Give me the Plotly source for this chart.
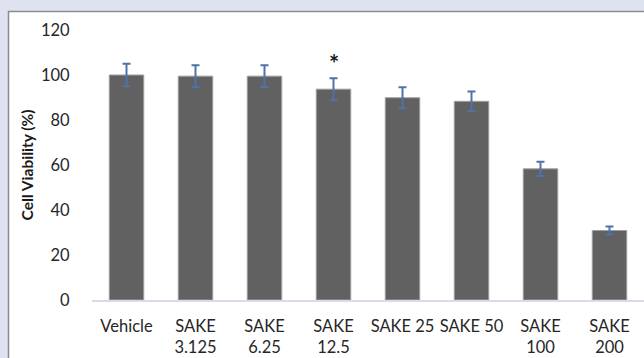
import plotly.graph_objects as go

# Cell viability after treatment (mean ± error)
categories = ["Vehicle", "SAKE<br>3.125", "SAKE<br>6.25", "SAKE<br>12.5",
              "SAKE 25", "SAKE 50", "SAKE<br>100", "SAKE<br>200"]
viability = [100.0, 99.5, 99.5, 93.7, 89.9, 88.3, 58.3, 30.9]
error = [5.0, 4.8, 4.8, 4.9, 4.7, 4.4, 3.2, 1.8]
y_ticks = [0, 20, 40, 60, 80, 100, 120]

# significance marker
star_category = "SAKE<br>12.5"
star_level = 105

W, H = 644, 358
ml, mr, mt, mb = 92, 0, 30, 58
pw, ph = W - ml - mr, H - mt - mb

fig = go.Figure()
fig.add_trace(go.Bar(
    x=categories,
    y=viability,
    marker=dict(color="#616161", line=dict(color="#a0a0a0", width=1)),
    error_y=dict(type="data", array=error, visible=True,
                 color="#4f73a8", thickness=2, width=4),
    width=0.5,
))

fig.add_annotation(x=star_category, y=star_level, text="<b>*</b>",
                   showarrow=False, font=dict(size=24, color="#1a1a1a",
                                              family="Lato"),
                   yanchor="middle")

# white panel with grey frame on the lavender background
fx0 = (8.5 - ml) / pw
fy1 = (H - 11.5 - mb) / ph
fig.add_shape(type="rect", xref="paper", yref="paper",
              x0=fx0, x1=1.05, y0=-0.5, y1=fy1,
              line=dict(color="#8c8c8c", width=1.5),
              fillcolor="white", layer="below")

fig.update_layout(
    width=W, height=H,
    margin=dict(l=ml, r=mr, t=mt, b=mb),
    paper_bgcolor="#dfe3f1",
    plot_bgcolor="rgba(0,0,0,0)",
    showlegend=False,
    font=dict(family="Lato", size=16.5, color="#262626"),
    xaxis=dict(showgrid=False, showline=True, linecolor="#d6dde7",
               linewidth=1.5, ticks="outside", ticklen=10,
               tickcolor="rgba(0,0,0,0)", tickangle=0),
    yaxis=dict(range=[0, 120], tickvals=y_ticks, showgrid=False,
               zeroline=False, showline=False, ticks="outside",
               ticklen=18, tickcolor="rgba(0,0,0,0)",
               title=dict(text="<b>Cell Viability (%)</b>",
                          font=dict(size=15.5, color="#1a1a1a"),
                          standoff=3)),
)

fig.write_html("out.html")
